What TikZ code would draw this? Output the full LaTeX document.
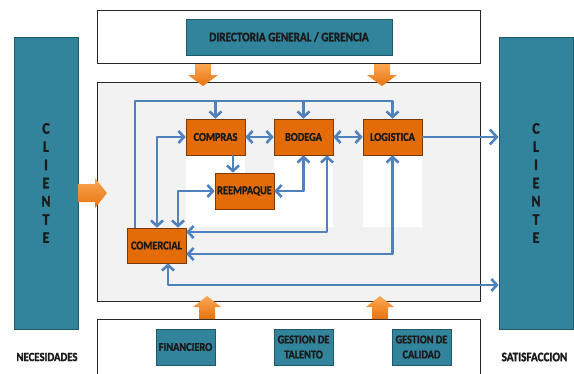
\documentclass[tikz,border=0pt]{standalone}
\usepackage{fontspec}
\setmainfont{Carlito}[FakeStretch=0.86, BoldFeatures={FakeBold=1.6}]
\usetikzlibrary{arrows.meta,calc}
\definecolor{tealbox}{HTML}{31849B}
\definecolor{tealdark}{HTML}{205867}
\definecolor{orangebox}{HTML}{E36C09}
\definecolor{orangedark}{HTML}{7A3A05}
\definecolor{textdark}{HTML}{1A1A1A}
\definecolor{connblue}{HTML}{4F81BD}
\definecolor{midfill}{HTML}{F2F2F2}
\definecolor{arrlight}{HTML}{FBA855}
\definecolor{arrdark}{HTML}{E8730F}
\tikzset{
  tbox/.style={draw=tealdark, fill=tealbox, line width=0.8pt, text=textdark,
    font=\fontsize{12}{15}\selectfont\bfseries, inner sep=1pt, align=center},
  obox/.style={draw=orangedark, fill=orangebox, line width=0.6pt, text=textdark,
    font=\fontsize{12}{14}\selectfont\bfseries, inner sep=1pt,
    minimum width=59pt, minimum height=36pt},
  frame/.style={draw=black!85, line width=1pt, inner sep=0pt},
  refl/.style={fill=white, draw=none},
  conn/.style={draw=connblue, line width=2.6pt, line join=round},
  blockarrow/.style={top color=arrlight, bottom color=arrdark, draw=none},
  lbl/.style={text=textdark, font=\fontsize{12.5}{14}\selectfont\bfseries, inner sep=0pt}
}
\begin{document}
\begin{tikzpicture}[x=1pt,y=-1pt,>={Straight Barb[length=5.5pt,width=12pt]}]
\useasboundingbox (0,0) rectangle (574,373);
% frames
\node[frame, fill=white, minimum width=383pt, minimum height=53pt] (topframe) at (288.5,36.5) {};
\node[frame, fill=midfill, minimum width=383pt, minimum height=219pt] (midframe) at (288.5,191.5) {};
\node[frame, fill=white, minimum width=383pt, minimum height=56pt] (botframe) at (288.5,347) {};
% reflections
\fill[refl] (186,155) rectangle (245,227);
\fill[refl] (274,155) rectangle (333,227);
\fill[refl] (363,155) rectangle (422,227);
\fill[refl] (215,209) rectangle (274,227);
% clientes
\node[tbox, minimum width=64pt, minimum height=292pt,
  font=\fontsize{16}{18.2}\selectfont\bfseries] (lcliente) at (46,183) {C\\L\\I\\E\\N\\T\\E};
\node[tbox, minimum width=74pt, minimum height=292pt,
  font=\fontsize{16}{18.2}\selectfont\bfseries] (rcliente) at (536,183) {C\\L\\I\\E\\N\\T\\E};
% top / bottom teal boxes
\node[tbox, minimum width=206pt, minimum height=36pt,
  font=\fontsize{13}{15}\selectfont\bfseries] (directoria) at (289,37) {DIRECTORIA GENERAL / GERENCIA};
\node[tbox, minimum width=59pt, minimum height=36pt] (financiero) at (185.5,347) {FINANCIERO};
\node[tbox, minimum width=59pt, minimum height=36pt] (talento) at (303.5,347) {GESTION DE\\TALENTO};
\node[tbox, minimum width=59pt, minimum height=36pt] (calidad) at (421.5,347) {GESTION DE\\CALIDAD};
% orange process boxes
\node[obox] (compras) at (215.5,137) {COMPRAS};
\node[obox] (bodega) at (303.5,137) {BODEGA};
\node[obox] (logistica) at (392.5,137) {LOGISTICA};
\node[obox] (reempaque) at (244.5,191) {REEMPAQUE};
\node[obox, minimum height=35pt] (comercial) at (156.5,245.5) {COMERCIAL};
% labels
\node[lbl] (necesidades) at (47,357) {NECESIDADES};
\node[lbl, font=\fontsize{13}{14}\selectfont\bfseries] (satisfaccion) at (534.5,357) {SATISFACCION};
% block arrows
\shade[blockarrow] (195,64) -- (211,64) -- (211,75) -- (218,75) -- (203,86) -- (188,75) -- (195,75) -- cycle;
\shade[blockarrow] (374,64) -- (390,64) -- (390,75) -- (397,75) -- (382,86) -- (367,75) -- (374,75) -- cycle;
\shade[blockarrow] (199,319) -- (215,319) -- (215,307) -- (221,307) -- (207,296) -- (193,307) -- (199,307) -- cycle;
\shade[blockarrow] (372,319) -- (388,319) -- (388,307) -- (394,307) -- (380,296) -- (366,307) -- (372,307) -- cycle;
\shade[blockarrow] (78,184) -- (95,184) -- (95,178) -- (107,193) -- (95,208) -- (95,202) -- (78,202) -- cycle;
% connectors
\draw[conn,->] (135,0 |- comercial.north) |- (392.5,101) -- (logistica.north);
\draw[conn,->] (compras.north |- 0,101) -- (compras.north);
\draw[conn,->] (bodega.north |- 0,101) -- (bodega.north);
\draw[conn,<->] (157,0 |- comercial.north) |- (compras.west);
\draw[conn,<->] (compras.east) -- (bodega.west);
\draw[conn,<->] (bodega.east) -- (logistica.west);
\draw[conn,->] (233,0 |- compras.south) -- (233,0 |- reempaque.north);
\draw[conn,<->] (178,0 |- comercial.north) |- (reempaque.west);
\draw[conn,<->] (reempaque.east) -| (bodega.south);
\draw[conn,<->] (327,0 |- bodega.south) |- (comercial.east |- 0,232);
\draw[conn,<->] (logistica.south) |- (comercial.east |- 0,254);
\draw[conn,->,>={Straight Barb[length=7pt,width=15pt]}] (logistica.east) -- (rcliente.west |- logistica.east);
\draw[conn,<->] (168,0 |- comercial.south) |- (rcliente.west |- 0,285);
\end{tikzpicture}
\end{document}
